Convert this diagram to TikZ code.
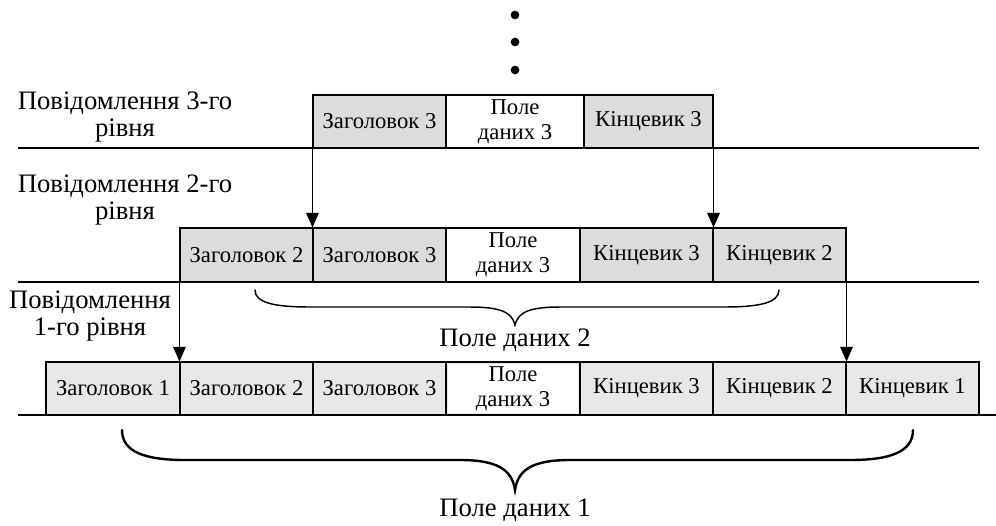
\documentclass[tikz,border=0pt]{standalone}
\usepackage{fontspec}
\setmainfont{Liberation Serif}
\usetikzlibrary{arrows.meta}
\definecolor{hdrgrey}{HTML}{DCDCDC}
\definecolor{lowgrey}{HTML}{E8E8E8}
\tikzset{
  cell/.style={draw=black, line width=0.8pt, inner sep=0pt, align=center,
    font=\fontsize{17}{18.5}\selectfont, minimum height=#1*0.75pt},
  cell/.default=53,
  w/.style={minimum width=#1*0.75pt},
  hdr/.style={cell, fill=hdrgrey},
  low/.style={cell, fill=lowgrey},
  datacell/.style={cell, fill=white},
  lvl/.style={align=center, font=\fontsize{20}{20.5}\selectfont, inner sep=0pt},
  rule/.style={line width=0.8pt},
  link/.style={line width=0.8pt, -{Triangle[length=11pt,width=9.5pt]}},
  brace/.style={line width=#1, line cap=round},
  dot/.style={circle, fill=black, inner sep=0pt, minimum size=6.5pt}
}
\begin{document}
\begin{tikzpicture}[x=0.75pt,y=-0.75pt]
\useasboundingbox (0,0) rectangle (996,525);

% vertical ellipsis above the top message
\node[dot] (e1) at (515,15) {};
\node[dot] (e2) at (515,42) {};
\node[dot] (e3) at (515,70) {};

% level 3 message
\node[hdr,  w=133] (a3h3) at (379.5,121.5) {Заголовок 3};
\node[datacell, w=138] (a3d)  at (515,121.5) {Поле\\даних 3};
\node[hdr,  w=129] (a3t3) at (648.5,121.5) {Кінцевик 3};

% level 2 message
\node[hdr, cell=54, w=133] (a2h2) at (246.5,255) {Заголовок 2};
\node[hdr, cell=54, w=133] (a2h3) at (379.5,255) {Заголовок 3};
\node[datacell, cell=54, w=134] (a2d) at (513,255) {Поле\\даних 3};
\node[hdr, cell=54, w=133] (a2t3) at (646.5,255) {Кінцевик 3};
\node[hdr, cell=54, w=133] (a2t2) at (779.5,255) {Кінцевик 2};

% level 1 message
\node[low, w=134] (a1h1) at (113,388.5) {Заголовок 1};
\node[low, w=133] (a1h2) at (246.5,388.5) {Заголовок 2};
\node[low, w=133] (a1h3) at (379.5,388.5) {Заголовок 3};
\node[low, w=134] (a1d)  at (513,388.5) {};
\fill[white] ([shift={(3,3)}]a1d.north west) rectangle ([shift={(-3,-3)}]a1d.south east);
\node[cell, draw=none, w=134] (a1dt) at (513,388.5) {Поле\\даних 3};
\node[low, w=133] (a1t3) at (646.5,388.5) {Кінцевик 3};
\node[low, w=133] (a1t2) at (779.5,388.5) {Кінцевик 2};
\node[low, w=133] (a1t1) at (912.5,388.5) {Кінцевик 1};

% level captions
\node[lvl] (c3) at (125,117) {Повідомлення 3-го\\рівня};
\node[lvl] (c2) at (125,200) {Повідомлення 2-го\\рівня};
\node[lvl] (c1) at (90,316) {Повідомлення\\1-го рівня};

% level separators
\coordinate (s3l) at (18,148);  \coordinate (s3r) at (979,148);
\coordinate (s2l) at (18,282);  \coordinate (s2r) at (979,282);
\coordinate (s1l) at (18,415);  \coordinate (s1r) at (996,415);
\draw[rule] (s3l) -- (s3r);
\draw[rule] (s2l) -- (s2r);
\draw[rule] (s1l) -- (s1r);

% encapsulation arrows
\draw[link] (a3h3.south west) -- (a2h3.north west);
\draw[link] (a3t3.south east) -- (a2t3.north east);
\draw[link] (a2h2.south west) -- (a1h2.north west);
\draw[link] (a2t2.south east) -- (a1t2.north east);

% brace under the level 2 data field
\coordinate (b2l) at (255,290);
\coordinate (b2r) at (779,290);
\coordinate (b2m) at (515,325);
\draw[brace=1.1pt] (b2l) .. controls (255,303) and (275,307) .. (310,307)
  -- (470,307) .. controls (500,307) and (512,312) .. (b2m)
  .. controls (518,312) and (530,307) .. (560,307)
  -- (724,307) .. controls (759,307) and (779,303) .. (b2r);
\node[lvl] (p2) at (515,340) {Поле даних 2};

% brace under the level 1 data field
\coordinate (b1l) at (122,430);
\coordinate (b1r) at (913,430);
\coordinate (b1m) at (515,490);
\draw[brace=1.8pt] (b1l) .. controls (122,452) and (145,460) .. (185,460)
  -- (460,460) .. controls (498,460) and (512,470) .. (b1m)
  .. controls (518,470) and (532,460) .. (570,460)
  -- (850,460) .. controls (890,460) and (913,452) .. (b1r);
\node[lvl] (p1) at (515,510) {Поле даних 1};
\end{tikzpicture}
\end{document}
